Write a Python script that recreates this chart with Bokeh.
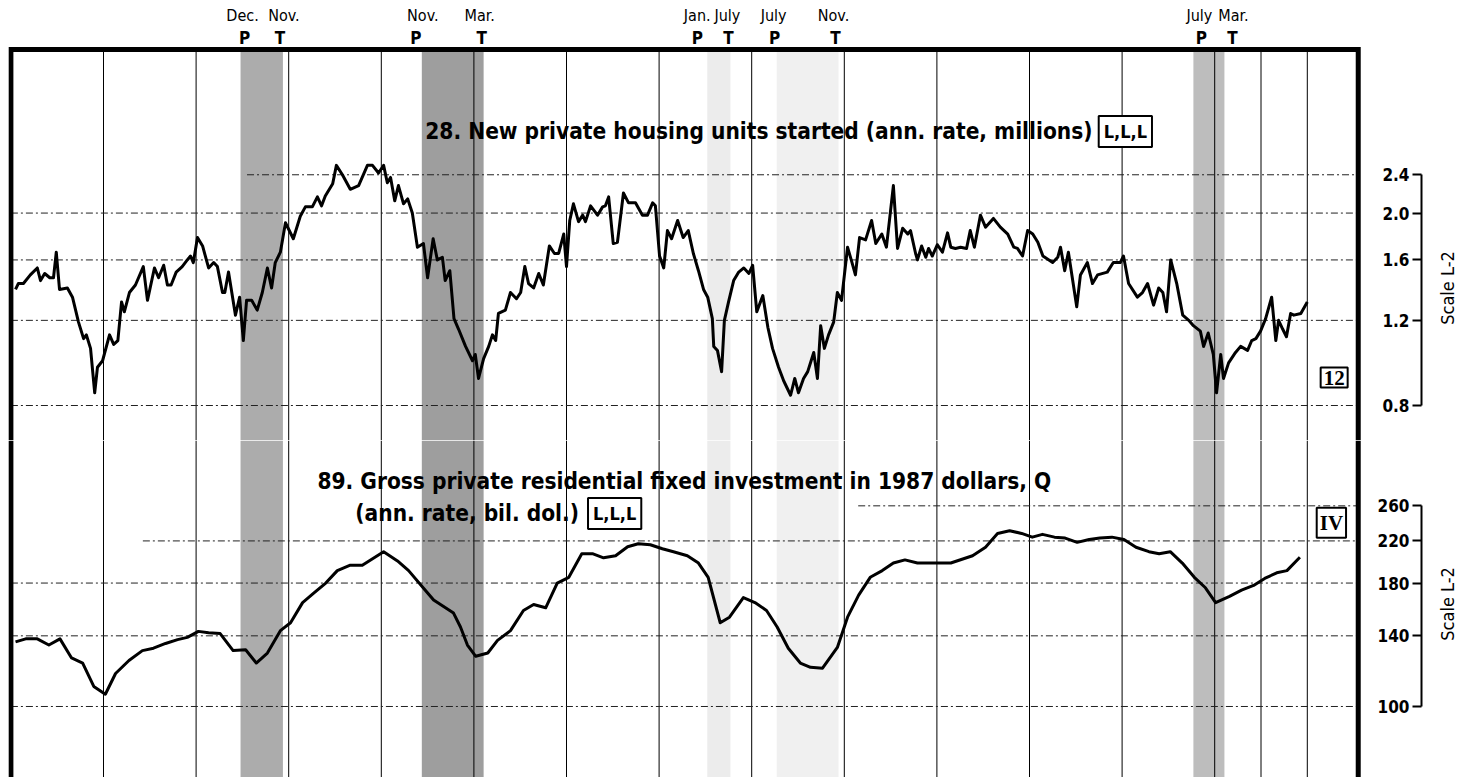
import math
from bokeh.plotting import figure
from bokeh.layouts import column, row
from bokeh.models import (Range1d, LogAxis, FixedTicker, PrintfTickFormatter, Label,
                          LabelSet, ColumnDataSource, BoxAnnotation, Span)
from bokeh.core.properties import value
from bokeh.embed import file_html
from bokeh.resources import INLINE

# ---------------- data ----------------
# 28. New private housing units started (ann. rate, millions), monthly
hs_t = [1965.10, 1965.16, 1965.27, 1965.42, 1965.57, 1965.64, 1965.73, 1965.84, 1965.92, 1965.98,
        1966.05, 1966.22, 1966.33, 1966.46, 1966.57, 1966.63, 1966.72, 1966.81, 1966.87, 1966.98,
        1967.13, 1967.22, 1967.31, 1967.39, 1967.45, 1967.56, 1967.69, 1967.86, 1967.95,
        1968.10, 1968.19, 1968.30, 1968.38, 1968.46, 1968.57, 1968.70, 1968.81, 1968.88, 1968.94,
        1969.03, 1969.14, 1969.27, 1969.38, 1969.46, 1969.57, 1969.62, 1969.70, 1969.85, 1969.94,
        1970.02, 1970.09, 1970.20, 1970.32, 1970.43, 1970.54, 1970.63, 1970.71, 1970.82, 1970.93,
        1971.10, 1971.25, 1971.36, 1971.51, 1971.62, 1971.71, 1971.79, 1971.95,
        1972.03, 1972.16, 1972.33, 1972.51, 1972.70, 1972.81, 1972.94,
        1973.05, 1973.13, 1973.20, 1973.29, 1973.37, 1973.48, 1973.57, 1973.67, 1973.78, 1973.91,
        1974.00, 1974.12, 1974.21, 1974.32, 1974.38, 1974.48, 1974.57, 1974.67, 1974.82, 1974.97,
        1975.03, 1975.10, 1975.21, 1975.32, 1975.40, 1975.47, 1975.53, 1975.68, 1975.79, 1975.92,
        1976.01, 1976.10, 1976.18, 1976.29, 1976.40, 1976.50, 1976.63, 1976.74, 1976.83, 1976.94,
        1977.00, 1977.07, 1977.15, 1977.26, 1977.35, 1977.41, 1977.52, 1977.67, 1977.78, 1977.84, 1977.91,
        1978.01, 1978.10, 1978.23, 1978.34, 1978.49, 1978.64, 1978.75, 1978.86, 1978.92,
        1979.01, 1979.10, 1979.18, 1979.27, 1979.40, 1979.52, 1979.63, 1979.74, 1979.85, 1979.96,
        1980.05, 1980.15, 1980.18, 1980.26, 1980.35, 1980.41, 1980.50, 1980.61, 1980.72, 1980.83, 1980.94,
        1981.02, 1981.11, 1981.24, 1981.35, 1981.45, 1981.58, 1981.69, 1981.84, 1981.93,
        1982.01, 1982.12, 1982.21, 1982.34, 1982.42, 1982.49, 1982.57, 1982.66, 1982.77, 1982.85, 1982.94,
        1983.07, 1983.15, 1983.24, 1983.33, 1983.46, 1983.59, 1983.68, 1983.81, 1983.91,
        1984.06, 1984.15, 1984.26, 1984.37, 1984.43, 1984.54, 1984.58, 1984.67, 1984.76, 1984.82, 1984.90,
        1985.01, 1985.12, 1985.23, 1985.30, 1985.40, 1985.51, 1985.64, 1985.72, 1985.81, 1985.94,
        1986.05, 1986.22, 1986.37, 1986.53, 1986.66, 1986.74, 1986.85, 1986.96,
        1987.07, 1987.18, 1987.29, 1987.50, 1987.61, 1987.67, 1987.76, 1987.84,
        1988.02, 1988.10, 1988.25, 1988.36, 1988.47, 1988.68, 1988.81, 1988.96,
        1989.03, 1989.14, 1989.33, 1989.44, 1989.55, 1989.68, 1989.79, 1989.88, 1989.96,
        1990.05, 1990.18, 1990.31, 1990.44, 1990.54, 1990.69, 1990.76, 1990.86, 1990.97,
        1991.04, 1991.13, 1991.19, 1991.30, 1991.45, 1991.56, 1991.71, 1991.80, 1991.89, 1991.99,
        1992.10, 1992.23, 1992.32, 1992.38, 1992.47, 1992.55, 1992.64, 1992.71, 1992.86, 1993.00]
hs_v = [1.39, 1.43, 1.43, 1.49, 1.54, 1.45, 1.50, 1.47, 1.47, 1.66,
        1.39, 1.40, 1.34, 1.19, 1.10, 1.12, 1.05, 0.85, 0.96, 0.99,
        1.12, 1.07, 1.09, 1.31, 1.25, 1.37, 1.42, 1.55, 1.32,
        1.54, 1.47, 1.56, 1.42, 1.42, 1.51, 1.55, 1.60, 1.63, 1.58,
        1.78, 1.71, 1.54, 1.58, 1.55, 1.37, 1.37, 1.51, 1.23, 1.34,
        1.09, 1.32, 1.32, 1.26, 1.37, 1.54, 1.40, 1.58, 1.66, 1.91,
        1.77, 1.97, 2.06, 2.06, 2.16, 2.07, 2.17, 2.30,
        2.51, 2.40, 2.24, 2.28, 2.51, 2.51, 2.42,
        2.51, 2.31, 2.37, 2.12, 2.28, 2.09, 2.14, 2.00, 1.70, 1.73,
        1.47, 1.77, 1.60, 1.62, 1.45, 1.52, 1.21, 1.15, 1.06, 0.99,
        1.02, 0.91, 1.00, 1.06, 1.12, 1.09, 1.24, 1.26, 1.37, 1.33,
        1.37, 1.55, 1.43, 1.40, 1.50, 1.42, 1.71, 1.65, 1.65, 1.81,
        1.55, 1.93, 2.09, 1.92, 1.98, 1.92, 2.07, 1.98, 2.06, 2.07, 2.16,
        1.73, 1.74, 2.20, 2.10, 2.10, 1.98, 1.98, 2.10, 2.07,
        1.63, 1.54, 1.84, 1.77, 1.93, 1.78, 1.84, 1.65, 1.52, 1.39,
        1.34, 1.21, 1.06, 1.04, 0.94, 1.20, 1.31, 1.45, 1.51, 1.54, 1.50,
        1.56, 1.25, 1.35, 1.16, 1.05, 0.96, 0.90, 0.84, 0.91,
        0.85, 0.91, 0.94, 1.03, 0.91, 1.17, 1.05, 1.12, 1.19, 1.37, 1.32,
        1.70, 1.60, 1.49, 1.78, 1.76, 1.93, 1.73, 1.81, 1.70,
        2.28, 1.69, 1.86, 1.81, 1.84, 1.65, 1.60, 1.71, 1.62, 1.69, 1.63,
        1.72, 1.66, 1.82, 1.70, 1.69, 1.70, 1.69, 1.84, 1.70, 1.98,
        1.87, 1.95, 1.87, 1.81, 1.70, 1.69, 1.63, 1.84,
        1.81, 1.74, 1.63, 1.58, 1.62, 1.70, 1.52, 1.66,
        1.28, 1.49, 1.58, 1.43, 1.49, 1.51, 1.58, 1.58,
        1.63, 1.43, 1.34, 1.37, 1.43, 1.29, 1.40, 1.37, 1.25,
        1.60, 1.43, 1.23, 1.20, 1.17, 1.14, 1.06, 1.13, 1.02,
        0.85, 1.02, 0.91, 0.98, 1.03, 1.06, 1.04, 1.09, 1.10, 1.14,
        1.21, 1.34, 1.09, 1.20, 1.15, 1.11, 1.24, 1.23, 1.24, 1.31]

# 89. Gross private residential fixed investment in 1987 dollars, Q (ann. rate, bil. dol.)
inv_t = [1965.10, 1965.32, 1965.57, 1965.82, 1966.06, 1966.31, 1966.55, 1966.79,
         1967.04, 1967.26, 1967.55, 1967.84, 1968.08, 1968.34, 1968.60, 1968.81,
         1969.05, 1969.27, 1969.52, 1969.80, 1970.07, 1970.30, 1970.54, 1970.82,
         1971.04, 1971.30, 1971.54, 1971.80, 1972.05, 1972.33, 1972.59, 1973.05,
         1973.35, 1973.59, 1973.95, 1974.13, 1974.56, 1974.71, 1974.86, 1975.04,
         1975.30, 1975.51, 1975.79, 1976.07, 1976.29, 1976.55, 1976.80, 1977.05,
         1977.33, 1977.56, 1977.80, 1978.06, 1978.32, 1978.55, 1978.81, 1979.07,
         1979.31, 1979.61, 1979.85, 1980.06, 1980.32, 1980.52, 1980.82, 1981.07,
         1981.32, 1981.55, 1981.79, 1982.05, 1982.27, 1982.53, 1982.85, 1983.07,
         1983.31, 1983.56, 1983.82, 1984.06, 1984.31, 1984.58, 1984.82, 1985.08,
         1985.30, 1985.77, 1986.05, 1986.31, 1986.57, 1986.83, 1987.06, 1987.28,
         1987.54, 1987.77, 1988.03, 1988.29, 1988.52, 1988.78, 1989.04, 1989.30,
         1989.58, 1989.80, 1990.04, 1990.30, 1990.56, 1990.80, 1991.02, 1991.32,
         1991.58, 1991.84, 1992.08, 1992.34, 1992.56, 1992.84]
inv_v = [136, 138, 138, 134, 138, 126, 123, 110,
         106, 117, 124.5, 130.5, 132, 135, 137.5, 139,
         143, 142, 141.5, 130.5, 131, 123, 129, 143.5,
         149, 164, 171.5, 180, 191, 196, 196, 209,
         200, 191, 174, 166, 156, 146, 134, 127,
         129, 137, 143.5, 158, 162.5, 160, 180, 185,
         207, 207, 203, 205, 214, 217, 216, 212,
         209, 205, 198, 185, 149, 153, 168, 164,
         158, 146, 132, 123, 120.5, 120, 132.5, 153,
         170, 185, 191, 198, 201, 198, 198, 198,
         198, 205, 213.5, 228, 231, 228, 224, 227,
         224, 223, 218.5, 221.5, 223, 224, 221.5, 213.5,
         209, 207, 209, 198, 185, 176, 164, 169,
         174, 178, 184, 189, 191, 203.5]

# business-cycle peaks (P) and troughs (T)
rec_peak = [1969.96, 1973.875, 1980.04, 1981.54, 1990.54]
rec_trough = [1970.875, 1975.21, 1980.54, 1982.875, 1991.21]
peak_month = ["Dec.", "Nov.", "Jan.", "July", "July"]
trough_month = ["Nov.", "Mar.", "July", "Nov.", "Mar."]

grid_years = [1967, 1969, 1971, 1973, 1975, 1977, 1979, 1981, 1983, 1985, 1987, 1989, 1991, 1992, 1993]
top_ticks = [0.8, 1.2, 1.6, 2.0, 2.4]
top_grid_from = [1965, 1965, 1965, 1965, 1970.1]
bot_ticks = [100, 140, 180, 220, 260]
bot_grid_from = [1965, 1965, 1965, 1967.85, 1983.3]

# ---------------- styling / layout ----------------
rec_shade = ["#acacac", "#9e9e9e", "#ececec", "#f0f0f0", "#bdbdbd"]
peak_dx = [4, -6, -10, -2, 8]
trough_dx = [-3, -2, -2, -3, 8]
month_dx = [2, 1, -10, -3, 6]
month_tdx = [1, -4, -3, -5, 9]
PX_PER_YEAR = 46.3
MAIN_W = 1353           # frame of the chart box area
SIDE_GAP = 60           # room for the bracket axis labels
SIDE_W = 50
X_START, X_END = 1965.0, 1994.1
x_lo = 1965.0 - 2.4 / PX_PER_YEAR
xr = Range1d(x_lo, x_lo + MAIN_W / PX_PER_YEAR)
TOP_LO, TOP_HI, TOP_BORDER = 0.6772, 5.503, 4.358
BOT_LO, BOT_HI = 71.31, 354.9
TOP_H, BOT_H = 440, 337
NARROW = "Liberation Sans Narrow, DejaVu Sans Condensed, Arial Narrow, sans-serif"
SERIF = "Liberation Serif, DejaVu Serif, serif"
GRID_DASH = "7 3 2 3"


def make_main(yr, frame_h):
    p = figure(frame_width=MAIN_W, frame_height=frame_h, x_range=xr, y_range=yr,
               y_axis_type="log", x_axis_location=None, y_axis_location=None,
               toolbar_location=None, output_backend="svg",
               min_border_left=8, min_border_right=0, min_border_top=0, min_border_bottom=0,
               outline_line_color=None, background_fill_color="white",
               border_fill_color="white")
    p.xgrid.visible = False
    p.ygrid.visible = False
    return p


def make_side(yr, frame_h, lo, hi, ticks, fmt, label_y):
    s = figure(frame_width=SIDE_W, frame_height=frame_h, x_range=Range1d(0, 1), y_range=yr,
               y_axis_type="log", x_axis_location=None, y_axis_location=None,
               toolbar_location=None, output_backend="svg",
               min_border_left=SIDE_GAP, min_border_right=0, min_border_top=0,
               min_border_bottom=0, outline_line_color=None,
               background_fill_color="white", border_fill_color="white")
    s.xgrid.visible = False
    s.ygrid.visible = False
    ax = LogAxis(bounds=(lo, hi), ticker=FixedTicker(ticks=ticks),
                 formatter=PrintfTickFormatter(format=fmt),
                 major_tick_in=0, major_tick_out=9,
                 minor_tick_line_color=None, axis_line_width=2,
                 major_tick_line_width=2, major_label_standoff=3,
                 major_label_text_font=NARROW, major_label_text_font_size="17px",
                 major_label_text_font_style="bold", major_label_text_color="black")
    s.add_layout(ax, "left")
    s.add_layout(Label(x=0.52, y=label_y, text="Scale L-2", angle=math.pi / 2,
                       text_align="center", text_baseline="middle", text_font=NARROW,
                       text_font_size="18px", text_color="black"))
    return s


def box_label(p, x, y, text, font, size, pad):
    p.add_layout(Label(x=x, y=y, text=text, text_font=font, text_font_size=size,
                       text_font_style="bold", text_align="center", text_baseline="middle",
                       text_color="black", border_line_color="black", border_line_width=2,
                       background_fill_color="white", padding=pad))


def title_label(p, x, y, text):
    p.add_layout(Label(x=x, y=y, text=text, text_font=NARROW, text_font_size="22.5px",
                       text_font_style="bold", text_baseline="middle", text_color="black"))


# ---------------- top panel ----------------
top_yr = Range1d(TOP_LO, TOP_HI)
top = make_main(top_yr, TOP_H)
for a, b, c in zip(rec_peak, rec_trough, rec_shade):
    top.add_layout(BoxAnnotation(left=a, right=b, top=TOP_BORDER, fill_color=c, fill_alpha=1.0,
                                 line_color=None, level="image"))
top.segment(x0=grid_years, x1=grid_years, y0=[TOP_LO] * len(grid_years),
            y1=[TOP_BORDER] * len(grid_years), line_color="black", line_width=1)
top.segment(x0=top_grid_from, x1=[X_END] * len(top_ticks), y0=top_ticks, y1=top_ticks,
            line_color="#222222", line_width=1, line_dash=GRID_DASH)
top.line([X_START, X_START, X_END, X_END], [TOP_LO, TOP_BORDER, TOP_BORDER, TOP_LO],
         line_color="black", line_width=5, line_join="miter")
top.line(hs_t, hs_v, line_color="black", line_width=3, line_join="round")
title_label(top, 1973.95, 2.96, "28. New private housing units started (ann. rate, millions)")
box_label(top, 1989.07, 2.95, "L,L,L", NARROW, "18px", 5)
box_label(top, 1993.58, 0.914, "12", SERIF, "21px", 3)

cyc = ColumnDataSource(dict(x=rec_peak + rec_trough,
                            month=peak_month + trough_month,
                            tag=["P"] * len(rec_peak) + ["T"] * len(rec_trough),
                            dx=peak_dx + trough_dx,
                            mdx=month_dx + month_tdx))
top.add_layout(LabelSet(x="x", y=TOP_BORDER, text="month", source=cyc, y_offset=34,
                        x_offset="mdx", text_align="center", text_baseline="middle",
                        text_font=value(NARROW), text_font_size="16px", text_color="black"))
top.add_layout(LabelSet(x="x", y=TOP_BORDER, text="tag", source=cyc, y_offset=11, x_offset="dx",
                        text_align="center", text_baseline="middle", text_font=value(NARROW),
                        text_font_size="17px", text_font_style="bold", text_color="black"))
top_side = make_side(top_yr, TOP_H, 0.8, 2.4, top_ticks, "%.1f", 1.40)

# ---------------- bottom panel ----------------
bot_yr = Range1d(BOT_LO, BOT_HI)
bot = make_main(bot_yr, BOT_H)
for a, b, c in zip(rec_peak, rec_trough, rec_shade):
    bot.add_layout(BoxAnnotation(left=a, right=b, fill_color=c, fill_alpha=1.0,
                                 line_color=None, level="image"))
bot.segment(x0=grid_years, x1=grid_years, y0=[BOT_LO] * len(grid_years),
            y1=[BOT_HI] * len(grid_years), line_color="black", line_width=1)
bot.segment(x0=bot_grid_from, x1=[X_END] * len(bot_ticks), y0=bot_ticks, y1=bot_ticks,
            line_color="#222222", line_width=1, line_dash=GRID_DASH)
for loc in (X_START, X_END):
    bot.add_layout(Span(location=loc, dimension="height", line_color="black", line_width=5))
bot.line(inv_t, inv_v, line_color="black", line_width=3, line_join="round")
title_label(bot, 1971.62, 293, "89. Gross private residential fixed investment in 1987 dollars, Q")
title_label(bot, 1972.44, 250.7, "(ann. rate, bil. dol.)")
box_label(bot, 1978.04, 250.7, "L,L,L", NARROW, "18px", 5)
box_label(bot, 1993.52, 240, "IV", SERIF, "21px", 3)
bot_side = make_side(bot_yr, BOT_H, 100, 260, bot_ticks, "%d", 163)

layout = row(column(top, bot, spacing=0), column(top_side, bot_side, spacing=0), spacing=0)
open("out.html", "w").write(file_html(layout, INLINE))
